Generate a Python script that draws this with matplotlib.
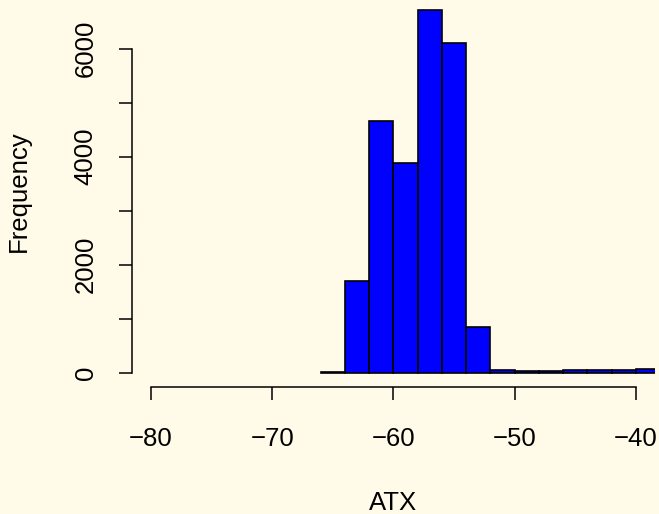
import matplotlib
matplotlib.use("Agg")
import matplotlib.pyplot as plt

# histogram of ATX, bins of width 2
bin_edges = [-66, -64, -62, -60, -58, -56, -54, -52, -50, -48, -46, -44, -42, -40, -38]
counts = [20, 1700, 4660, 3880, 6720, 6100, 850, 45, 30, 40, 50, 50, 50, 60]

x_ticks = [-80, -70, -60, -50, -40]
x_tick_labels = ["\u221280", "\u221270", "\u221260", "\u221250", "\u221240"]
y_ticks = [0, 1000, 2000, 3000, 4000, 5000, 6000]
y_tick_labels = ["0", "", "2000", "", "4000", "", "6000"]

bg = "#FFFBE8"
plt.rcParams["font.family"] = ["Liberation Sans", "DejaVu Sans"]
fs = 18.5

W, H = 659, 514
fig = plt.figure(figsize=(W / 100, H / 100), dpi=100, facecolor=bg)

# plot region in pixels (R style usr region)
left, right, bottom = 131.6, 655.4, 387.2
ax = fig.add_axes([left / W, (H - bottom) / H, (right - left) / W, bottom / H])
ax.set_facecolor(bg)
ax.set_xlim(-81.6, -38.4)
ax.set_ylim(-268.5, 6902)

ax.bar(bin_edges[:-1], counts, width=2, align="edge",
       color="blue", edgecolor="black", linewidth=1.2)

for s in ["top", "right"]:
    ax.spines[s].set_visible(False)
ax.spines["left"].set_bounds(0, 6000)
ax.spines["bottom"].set_bounds(-80, -40)
ax.spines["left"].set_linewidth(1.1)
ax.spines["bottom"].set_linewidth(1.1)

ax.set_xticks(x_ticks)
ax.set_xticklabels(x_tick_labels, fontsize=fs)
ax.set_yticks(y_ticks)
ax.set_yticklabels(y_tick_labels, fontsize=fs, rotation=90, va="center")
ax.tick_params(axis="x", length=9.4, width=1.1, pad=19)
ax.tick_params(axis="y", length=9.4, width=1.1, pad=15)

fig.text(393.5 / W, 1 - 510.5 / H, "ATX", fontsize=fs, ha="center", va="baseline")
fig.text(25.4 / W, 1 - 191.3 / H, "Frequency", fontsize=fs, rotation=90,
         rotation_mode="anchor", ha="center", va="baseline")

fig.savefig("out.png", dpi=100, facecolor=bg)
